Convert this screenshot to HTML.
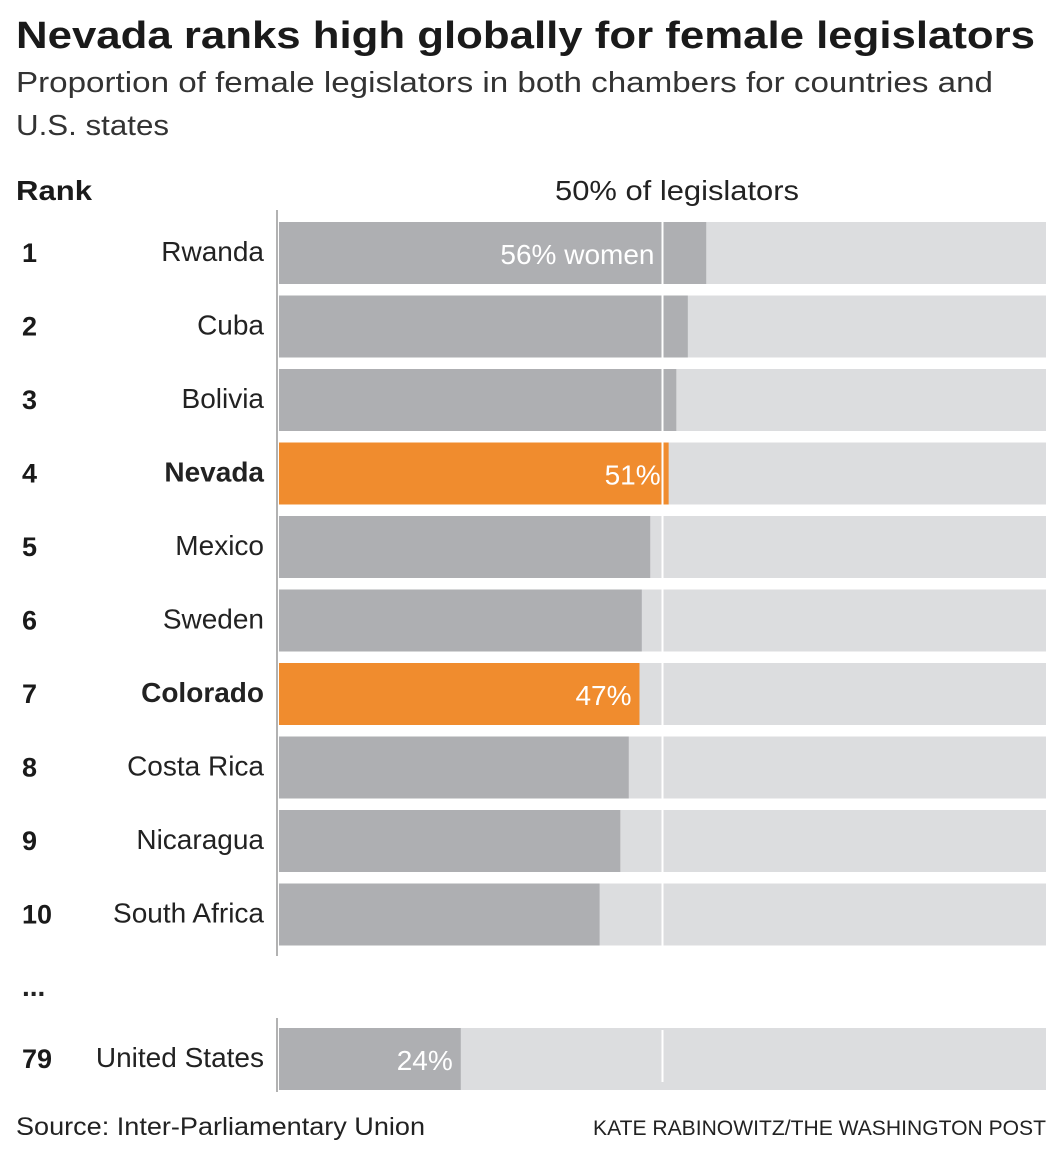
<!DOCTYPE html>
<html><head><meta charset="utf-8"><style>
body{margin:0;background:#fff;width:1063px;height:1148px;overflow:hidden;font-family:"Liberation Sans",sans-serif;color:#222;}
svg text{font-family:"Liberation Sans",sans-serif;}
</style></head><body>
<svg id="chart" width="1063" height="1148" xmlns="http://www.w3.org/2000/svg">
<text x="16" y="48" font-size="38" font-weight="bold" fill="#1a1a1a" textLength="1019" lengthAdjust="spacingAndGlyphs">Nevada ranks high globally for female legislators</text>
<text x="16" y="92" font-size="29" fill="#333" textLength="977" lengthAdjust="spacingAndGlyphs">Proportion of female legislators in both chambers for countries and</text>
<text x="16" y="135" font-size="29" fill="#333" textLength="153" lengthAdjust="spacingAndGlyphs">U.S. states</text>
<text x="16" y="200" font-size="28" font-weight="bold" fill="#1a1a1a" textLength="76" lengthAdjust="spacingAndGlyphs">Rank</text>
<text x="555" y="200" font-size="28" fill="#222" textLength="244" lengthAdjust="spacingAndGlyphs">50% of legislators</text>
<g id="bars"></g>
<text x="22" y="996" font-size="28" font-weight="bold" fill="#222">...</text>
<text x="16" y="1135" font-size="25" fill="#222" textLength="409" lengthAdjust="spacingAndGlyphs">Source: Inter-Parliamentary Union</text>
<text x="593" y="1135" font-size="21" fill="#222" textLength="453" lengthAdjust="spacingAndGlyphs">KATE RABINOWITZ/THE WASHINGTON POST</text>
</svg>
<script>
const ranks=[1,2,3,4,5,6,7,8,9,10,79];
const names=["Rwanda","Cuba","Bolivia","Nevada","Mexico","Sweden","Colorado","Costa Rica","Nicaragua","South Africa","United States"];
const values=[55.7,53.3,51.8,50.8,48.4,47.3,47,45.6,44.5,41.8,23.7];
const highlighted=[false,false,false,true,false,false,true,false,false,false,false];
const valueLabels=["56% women","","","51%","","","47%","","","","24%"];
const x0=279,x100=1046;
const xs=v=>x0+(x100-x0)*v/100;
const rowY=i=>i<10?222+i*73.5:1028;
const g=document.getElementById('bars');
const NS="http://www.w3.org/2000/svg";
function mk(tag,attrs){const e=document.createElementNS(NS,tag);for(const k in attrs)e.setAttribute(k,attrs[k]);g.appendChild(e);return e;}
for(let i=0;i<values.length;i++){
 const y=rowY(i),h=62;
 let bg=mk('rect',{x:x0,y:y,width:x100-x0,height:h,fill:'#dcdddf'});
 
 
 let b=mk('rect',{x:x0,y:y,width:xs(values[i])-x0,height:h,fill:highlighted[i]?'#f08c2e':'#aeafb2'});
 
 
 let r=mk('text',{x:22,y:y+40,'font-size':27,'font-weight':'bold',fill:'#1a1a1a'});r.textContent=ranks[i];
 
 
 let n=mk('text',{x:264,y:y+39,'font-size':28,'text-anchor':'end',fill:'#222','font-weight':highlighted[i]?'bold':'normal'});n.textContent=names[i];
 
 
}
for(const seg of [[210,956],[1018,1092]]){
 let w=mk('line',{x1:xs(50),x2:xs(50),y1:seg[0]+12,y2:seg[1]-10,stroke:'#fff','stroke-width':2});
 
 
 let a=mk('line',{x1:277,x2:277,y1:seg[0],y2:seg[1],stroke:'#999','stroke-width':1.5});
 
 
}
for(let i=0;i<values.length;i++){
 if(!valueLabels[i])continue;
 const y=rowY(i);
 let end=i===0?xs(50)-8:xs(values[i])-8;
 let t=mk('text',{x:end,y:y+42,'font-size':28,'text-anchor':'end',fill:'#fff'});t.textContent=valueLabels[i];
 
 
}
</script>
</body></html>
